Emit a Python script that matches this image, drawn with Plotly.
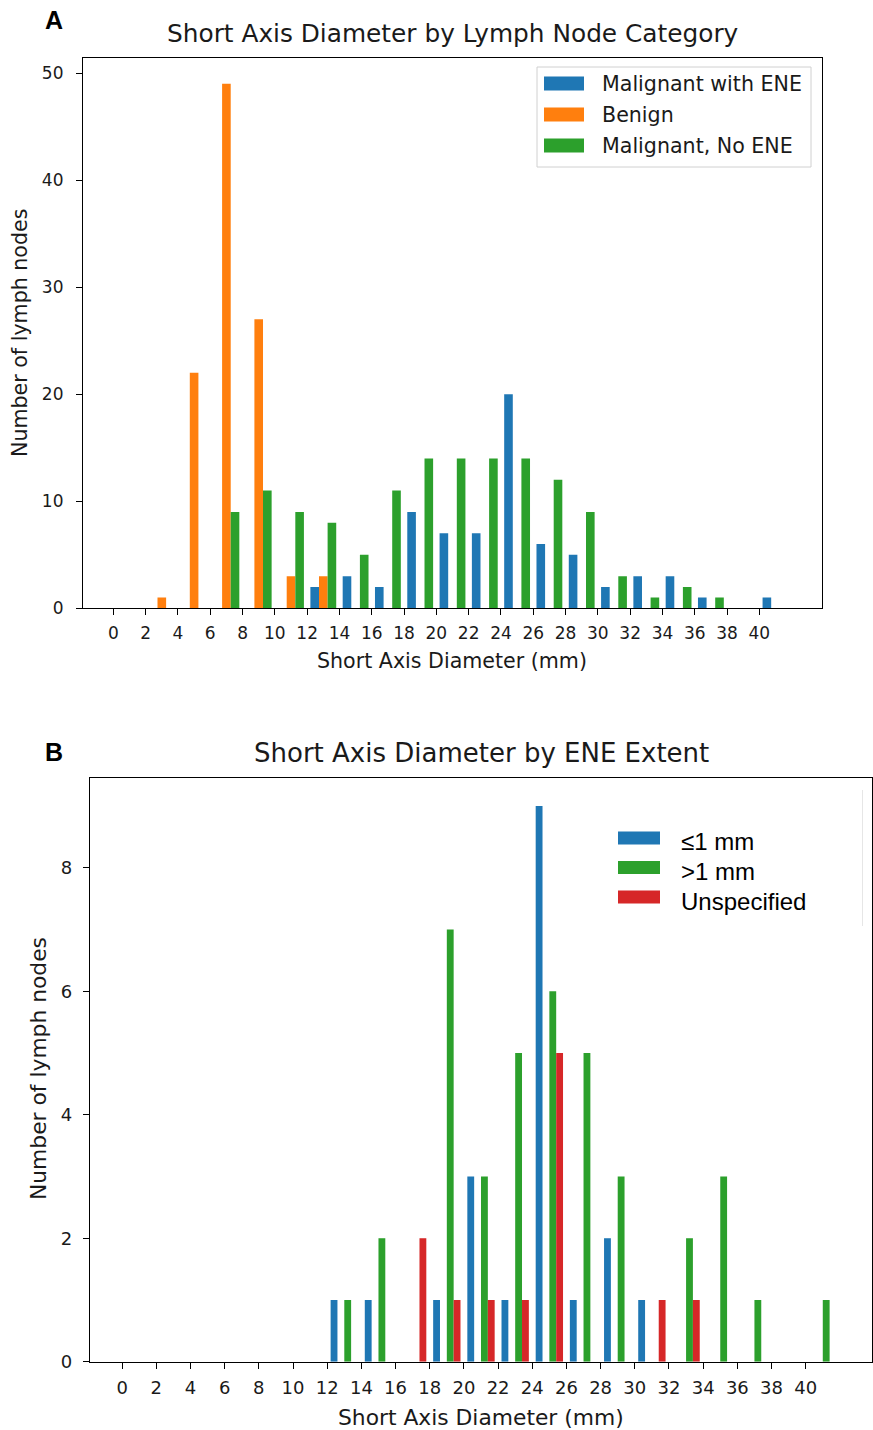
import plotly.graph_objects as go
from plotly.subplots import make_subplots

W, H = 873, 1430

# ---------------- data ----------------
# histogram bins of width 2 mm: 0-2, 2-4, ..., 40-42 (bin centres below)
bin_centers = [1, 3, 5, 7, 9, 11, 13, 15, 17, 19, 21, 23, 25, 27, 29, 31, 33, 35, 37, 39, 41]
x_ticks = [0, 2, 4, 6, 8, 10, 12, 14, 16, 18, 20, 22, 24, 26, 28, 30, 32, 34, 36, 38, 40]

# Panel A: Short axis diameter by lymph node category
malignant_ene = [0, 0, 0, 0, 0, 0, 2, 3, 2, 9, 7, 7, 20, 6, 5, 2, 3, 3, 1, 0, 1]
benign        = [0, 1, 22, 49, 27, 3, 3, 0, 0, 0, 0, 0, 0, 0, 0, 0, 0, 0, 0, 0, 0]
malignant_no  = [0, 0, 0, 9, 11, 9, 8, 5, 11, 14, 14, 14, 14, 12, 9, 3, 1, 2, 1, 0, 0]
yticks_a = [0, 10, 20, 30, 40, 50]

# Panel B: Short axis diameter by ENE extent (4 histogram groups, one empty)
ene_le1       = [0, 0, 0, 0, 0, 0, 1, 1, 0, 1, 3, 1, 9, 1, 2, 1, 0, 0, 0, 0, 0]
ene_empty     = [0, 0, 0, 0, 0, 0, 0, 0, 0, 0, 0, 0, 0, 0, 0, 0, 0, 0, 0, 0, 0]
ene_gt1       = [0, 0, 0, 0, 0, 0, 1, 2, 0, 7, 3, 5, 6, 5, 3, 0, 2, 3, 1, 0, 1]
ene_unspec    = [0, 0, 0, 0, 0, 0, 0, 0, 2, 1, 1, 1, 5, 0, 0, 1, 1, 0, 0, 0, 0]
yticks_b = [0, 2, 4, 6, 8]

legend_a = ["Malignant with ENE", "Benign", "Malignant, No ENE"]
legend_b = ["≤1 mm", ">1 mm", "Unspecified"]

BLUE, ORANGE, GREEN, RED = "#1f77b4", "#ff7f0e", "#2ca02c", "#d62728"
FONT = "DejaVu Sans"
TXT = "#1a1a1a"


def px(x):
    return x / W


def py(y):
    return 1 - y / H


fig = make_subplots(rows=2, cols=1)

for name, vals, col in [(legend_a[0], malignant_ene, BLUE),
                        (legend_a[1], benign, ORANGE),
                        (legend_a[2], malignant_no, GREEN)]:
    fig.add_trace(go.Bar(x=bin_centers, y=vals, name=name, marker_color=col,
                         marker_line_width=0, showlegend=False), row=1, col=1)

for name, vals, col in [(legend_b[0], ene_le1, BLUE),
                        ("", ene_empty, "rgba(0,0,0,0)"),
                        (legend_b[1], ene_gt1, GREEN),
                        (legend_b[2], ene_unspec, RED)]:
    fig.add_trace(go.Bar(x=bin_centers, y=vals, name=name, marker_color=col,
                         marker_line_width=0, showlegend=False), row=2, col=1)

axis_common = dict(showline=True, linecolor="black", linewidth=1.2, mirror=True,
                   ticks="outside", ticklen=6, tickwidth=1.2, tickcolor="black",
                   showgrid=False, zeroline=False, automargin=False)

fig.update_layout(
    template="none",
    width=W, height=H, margin=dict(l=0, r=0, t=0, b=0, pad=0, autoexpand=False),
    paper_bgcolor="white", plot_bgcolor="white",
    barmode="group", bargap=0.2, bargroupgap=0,
    font=dict(family=FONT, color=TXT),
    xaxis=dict(domain=[px(83), px(822)], range=[-1.88, 43.88], tickvals=x_ticks,
               ticklabelstandoff=3,
               tickfont=dict(size=17, family=FONT, color=TXT), **axis_common),
    yaxis=dict(domain=[py(608.3), py(57.5)], range=[0, 51.45], tickvals=yticks_a,
               ticklabelstandoff=9,
               tickfont=dict(size=17, family=FONT, color=TXT), **axis_common),
    xaxis2=dict(domain=[px(90), px(872)], range=[-1.88, 43.88], tickvals=x_ticks,
                ticklabelstandoff=4,
                tickfont=dict(size=18, family=FONT, color=TXT), **axis_common),
    yaxis2=dict(domain=[py(1361.7), py(778.3)], range=[0, 9.45], tickvals=yticks_b,
                ticklabelstandoff=7,
                tickfont=dict(size=18, family=FONT, color=TXT), **axis_common),
)

ann = []
# panel letters
ann.append(dict(text="<b>A</b>", x=px(43), y=py(20), xanchor="left", yanchor="middle",
                font=dict(family="Liberation Sans", size=25, color="black")))
ann.append(dict(text="<b>B</b>", x=px(43), y=py(752), xanchor="left", yanchor="middle",
                font=dict(family="Liberation Sans", size=25, color="black")))
# titles
ann.append(dict(text="Short Axis Diameter by Lymph Node Category", x=px(452), y=py(33),
                xanchor="center", yanchor="middle", font=dict(size=24.8, family=FONT, color=TXT)))
ann.append(dict(text="Short Axis Diameter by ENE Extent", x=px(481), y=py(753),
                xanchor="center", yanchor="middle", font=dict(size=26, family=FONT, color=TXT)))
# axis titles
ann.append(dict(text="Short Axis Diameter (mm)", x=px(452), y=py(661),
                xanchor="center", yanchor="middle", font=dict(size=20.6, family=FONT, color=TXT)))
ann.append(dict(text="Short Axis Diameter (mm)", x=px(481), y=py(1417),
                xanchor="center", yanchor="middle", font=dict(size=21.8, family=FONT, color=TXT)))
ann.append(dict(text="Number of lymph nodes", x=px(20), y=py(333), textangle=-90,
                xanchor="center", yanchor="middle", font=dict(size=20.6, family=FONT, color=TXT)))
ann.append(dict(text="Number of lymph nodes", x=px(38), y=py(1069), textangle=-90,
                xanchor="center", yanchor="middle", font=dict(size=21.8, family=FONT, color=TXT)))

shapes = []
# legend A (framed)
shapes.append(dict(type="rect", xref="paper", yref="paper", x0=px(537), x1=px(811),
                   y0=py(167), y1=py(67), line=dict(color="#d0d0d0", width=1),
                   fillcolor="rgba(255,255,255,0.8)", layer="above"))
for i, (lab, col) in enumerate(zip(legend_a, [BLUE, ORANGE, GREEN])):
    cy = 83.5 + 31 * i
    shapes.append(dict(type="rect", xref="paper", yref="paper", x0=px(544), x1=px(584),
                       y0=py(cy + 7), y1=py(cy - 7), line=dict(width=0), fillcolor=col,
                       layer="above"))
    ann.append(dict(text=lab, x=px(600), y=py(cy + 0.5), xanchor="left", yanchor="middle",
                    font=dict(size=20.6, family=FONT, color=TXT)))

# legend B (no frame, faint remnant line)
shapes.append(dict(type="line", xref="paper", yref="paper", x0=px(862.5), x1=px(862.5),
                   y0=py(926), y1=py(790), line=dict(color="#e6e6e6", width=1)))
for i, (lab, col) in enumerate(zip(legend_b, [BLUE, GREEN, RED])):
    cy = 838 + 29.5 * i
    shapes.append(dict(type="rect", xref="paper", yref="paper", x0=px(618), x1=px(660),
                       y0=py(cy + 6.5), y1=py(cy - 6.5), line=dict(width=0), fillcolor=col,
                       layer="above"))
    ann.append(dict(text=lab, x=px(679), y=py(cy + 4), xanchor="left", yanchor="middle",
                    font=dict(size=24, family="Liberation Sans", color="black")))

for a in ann:
    a.update(xref="paper", yref="paper", showarrow=False)

fig.update_layout(annotations=ann, shapes=shapes)

# pin the figure to the page corner so the page is exactly the window size
pin_js = (
    "document.body.style.margin='0';"
    "document.body.style.overflow='hidden';"
    "var gd=document.getElementById('{plot_id}');"
    "gd.style.position='fixed';gd.style.top='0';gd.style.left='0';"
)
fig.write_html("out.html", config={"displayModeBar": False}, post_script=pin_js)
